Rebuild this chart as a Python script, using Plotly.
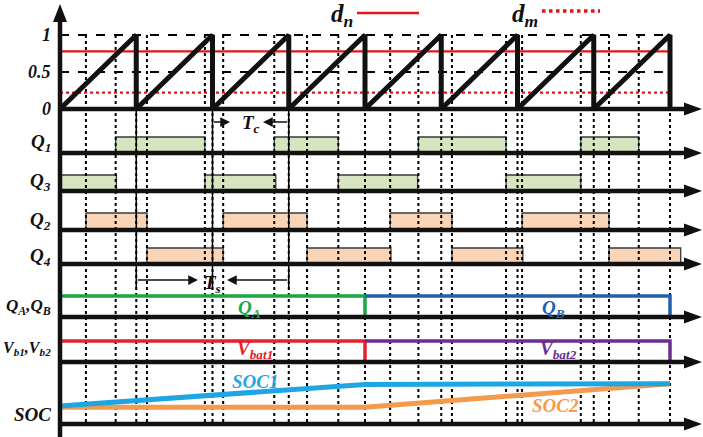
import plotly.graph_objects as go

# time is measured in carrier periods T (sawtooth 0 -> 1 in each period)
n_periods = 8
d_n = 0.78
d_m = 0.22
ref_levels = [1, 0.5]
ref_labels = ['1', '0.5', '0']

# gate on-intervals (start, end) in periods
q1_on = [(0.73, 1.90), (2.81, 3.65), (4.70, 5.85), (6.83, 7.59)]
q3_on = [(0.0, 0.74), (1.90, 2.83), (3.65, 4.69), (5.85, 6.83)]
q2_on = [(0.34, 1.14), (2.14, 3.24), (4.33, 5.14), (6.06, 7.20)]
q4_on = [(1.14, 2.14), (3.24, 4.34), (5.14, 6.07), (7.20, 8.14)]

# switching instants (dotted guides)
edge_times = [0.34, 0.73, 1.0, 1.14, 1.90, 2.0, 2.14, 2.81, 3.0, 3.24, 3.65, 4.0, 4.33,
              4.70, 5.0, 5.14, 5.85, 6.0, 6.06, 6.83, 7.0, 7.20, 7.59, 8.0]
period_marks = [1, 2, 3]

# battery A / battery B operation
mode_switch = 4
soc_t = [0, 4, 8]
soc1 = [0.30, 0.66, 0.67]
soc2 = [0.28, 0.28, 0.67]

# ---- layout helpers (y axis in screen units, rows stacked) ----
T_PX = 76.25
X0 = 60


def px(x):
    return (x - X0) / T_PX


rows = {'saw': (109, 74), 'q1': (153, 16), 'q3': (191, 16), 'q2': (230, 17),
        'q4': (264, 16), 'qab': (317, 21), 'vb': (362, 21), 'soc': (424, 60)}


def yv(row, v):
    base, h = rows[row]
    return base - v * h


fig = go.Figure()


def line(x, y, color='black', width=2, dash='solid'):
    fig.add_trace(go.Scatter(x=x, y=y, mode='lines', hoverinfo='skip',
                             line=dict(color=color, width=width, dash=dash)))


def poly(x, y, fill, outline=None, width=0):
    fig.add_trace(go.Scatter(x=x, y=y, mode='lines', fill='toself', fillcolor=fill,
                             hoverinfo='skip',
                             line=dict(color=outline or fill, width=width)))


# pulses
pulse_fill = {'q1': '#d7e4c0', 'q3': '#d7e4c0', 'q2': '#fad4b6', 'q4': '#fad4b6'}
for name, ons in [('q1', q1_on), ('q3', q3_on), ('q2', q2_on), ('q4', q4_on)]:
    xs, ys = [], []
    for a, b in ons:
        xs += [a, a, b, b, a, None]
        ys += [yv(name, 0), yv(name, 1), yv(name, 1), yv(name, 0), yv(name, 0), None]
    poly(xs, ys, pulse_fill[name], '#3a3a3a', 1.3)

# dotted guides
top = yv('saw', 1)
xs, ys = [], []
for t in edge_times:
    xs += [t, t, None]
    ys += [top, rows['soc'][0], None]
line(xs, ys, 'black', 2, 'dot')
xs, ys = [], []
for t in period_marks:
    xs += [t, t, None]
    ys += [rows['saw'][0], 290, None]
line(xs, ys, 'black', 1.5)

# reference levels of the carrier
for lv in ref_levels:
    line([0, n_periods], [yv('saw', lv)] * 2, 'black', 2.2, 'dash')
line([0, n_periods], [yv('saw', d_n)] * 2, '#e3141c', 2.2)
line([0, n_periods], [yv('saw', d_m)] * 2, '#e3141c', 2.2, 'dot')

# sawtooth carrier
sx, sy = [0], [0]
for k in range(1, n_periods + 1):
    sx += [k, k]
    sy += [1, 0]
line(sx, [yv('saw', v) for v in sy], '#111', 5)

# QA / QB
line([0, mode_switch, mode_switch], [yv('qab', 1), yv('qab', 1), yv('qab', 0)], '#17a845', 3.5)
line([mode_switch, n_periods, n_periods], [yv('qab', 1), yv('qab', 1), yv('qab', 0)], '#1f5fae', 3.5)
# battery voltages
line([0, mode_switch, mode_switch], [yv('vb', 1), yv('vb', 1), yv('vb', 0)], '#e5202b', 3.5)
line([mode_switch, n_periods, n_periods], [yv('vb', 1), yv('vb', 1), yv('vb', 0)], '#6b2d91', 3.5)

# SOC
line(soc_t, [yv('soc', v) for v in soc2], '#f59a4d', 5)
line(soc_t, [yv('soc', v) for v in soc1], '#1ea6e3', 5)

# axes
ax_end = px(690)
for r in rows:
    line([0, ax_end], [rows[r][0]] * 2, '#111', 4.5)
line([0, 0], [437, 20], '#111', 4.5)
hx, hy = [], []
for r in rows:
    b = rows[r][0]
    hx += [px(684), px(702), px(684), px(684), None]
    hy += [b - 6.5, b, b + 6.5, b - 6.5, None]
hx += [px(53), px(60), px(67), px(53)]
hy += [22, 4, 22, 22]
poly(hx, hy, '#111')

# Tc / Ts markers
for (tail, head, y) in [(2, px(230), 122), (3, px(263), 122),
                        (1, px(198), 280), (3, px(227), 280)]:
    fig.add_annotation(x=head, y=y, ax=tail, ay=y, axref='x', ayref='y', xref='x', yref='y',
                       text='', showarrow=True, arrowhead=2, arrowsize=1.3,
                       arrowwidth=1.5, arrowcolor='#111')

# legend samples
line([px(357), px(419)], [13, 13], '#e3141c', 2.5)
line([px(542), px(600)], [11, 11], '#e3141c', 3.5, 'dot')

FONT = 'Times New Roman, Liberation Serif, serif'


def label(x, y, txt, size=18, color='#111', anchor='center'):
    fig.add_annotation(x=x, y=y, xref='x', yref='y', text='<b><i>%s</i></b>' % txt,
                       showarrow=False, xanchor=anchor, yanchor='middle',
                       font=dict(family=FONT, size=size, color=color))


label(px(342), 15, 'd<sub>n</sub>', 25)
label(px(525), 15, 'd<sub>m</sub>', 25)
label(px(251), 124, 'T<sub>c</sub>', 19)
label(px(212), 284, 'T<sub>s</sub>', 19)

lx = px(53)
for txt, lv in zip(ref_labels, [1, 0.5, 0]):
    label(lx, yv('saw', lv), txt, 18, anchor='right')
for txt, y, s in [('Q<sub>1</sub>', 143, 19), ('Q<sub>3</sub>', 182, 19),
                  ('Q<sub>2</sub>', 221, 19), ('Q<sub>4</sub>', 257, 19),
                  ('Q<sub>A</sub>,Q<sub>B</sub>', 307, 17),
                  ('V<sub>b1</sub>,V<sub>b2</sub>', 348, 16), ('SOC', 414, 19)]:
    label(lx, y, txt, s, anchor='right')

label(px(249), 309, 'Q<sub>A</sub>', 19, '#17a845')
label(px(553), 309, 'Q<sub>B</sub>', 19, '#1f5fae')
label(px(255), 350, 'V<sub>bat1</sub>', 19, '#e5202b')
label(px(558), 350, 'V<sub>bat2</sub>', 19, '#6b2d91')
label(px(255), 381, 'SOC1', 19, '#1ea6e3')
label(px(555), 405, 'SOC2', 19, '#f59a4d')

fig.update_layout(width=703, height=437, margin=dict(l=0, r=0, t=0, b=0),
                  plot_bgcolor='white', paper_bgcolor='white', showlegend=False,
                  xaxis=dict(range=[px(0), px(703)], visible=False, fixedrange=True),
                  yaxis=dict(range=[437, 0], visible=False, fixedrange=True))
fig.write_html("out.html", config={'displayModeBar': False},
               post_script="document.body.style.margin='0';")
